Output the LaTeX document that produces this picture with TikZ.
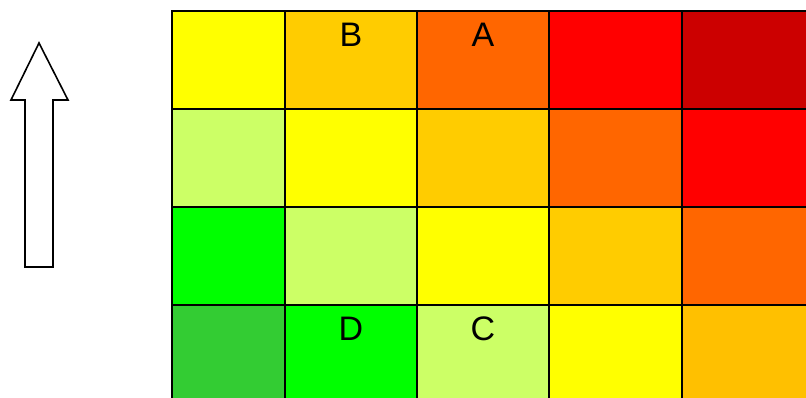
\documentclass[tikz,border=0pt]{standalone}
\usepackage{fontspec}
\setmainfont{Liberation Sans}
\definecolor{cY}{HTML}{FFFF00}
\definecolor{cO}{HTML}{FFCC00}
\definecolor{cR}{HTML}{FF6600}
\definecolor{cRR}{HTML}{FF0000}
\definecolor{cDR}{HTML}{CC0000}
\definecolor{cLG}{HTML}{CCFF66}
\definecolor{cG}{HTML}{00FF00}
\definecolor{cDG}{HTML}{33CC33}
\definecolor{cOO}{HTML}{FFC000}
\tikzset{
  cellbox/.style={draw=black, line width=2pt},
  lbl/.style={anchor=base, inner sep=0pt, font=\fontsize{34}{34}\selectfont},
  bigarrow/.style={draw=black, fill=white, line width=1.6pt, line join=miter}
}
\begin{document}
\begin{tikzpicture}[x=1pt,y=-1pt]
\useasboundingbox (0,0) rectangle (806,397);
\clip (0,0) rectangle (806,397);
% grid
\def\xs{{172,285,417,549,682,830}}
\def\ys{{11,109,207,305,420}}
\foreach \r/\row in {0/{cY,cO,cR,cRR,cDR},1/{cLG,cY,cO,cR,cRR},2/{cG,cLG,cY,cO,cR},3/{cDG,cG,cLG,cY,cOO}}{
  \foreach \c/\col in \row {}
}
\foreach \r/\a/\b/\cc/\d/\e in {0/cY/cO/cR/cRR/cDR,1/cLG/cY/cO/cR/cRR,2/cG/cLG/cY/cO/cR,3/cDG/cG/cLG/cY/cOO}{
  \pgfmathsetmacro{\yt}{\ys[\r]}
  \pgfmathsetmacro{\yb}{\ys[\r+1]}
  \foreach \c/\col in {0/\a,1/\b,2/\cc,3/\d,4/\e}{
    \pgfmathsetmacro{\xl}{\xs[\c]}
    \pgfmathsetmacro{\xr}{\xs[\c+1]}
    \draw[cellbox, fill=\col] (\xl,\yt) rectangle (\xr,\yb);
  }
}
% labels
\node[lbl] (B) at (351,46) {B};
\node[lbl] (A) at (483,46) {A};
\node[lbl] (D) at (351,340) {D};
\node[lbl] (C) at (483,340) {C};
% arrow
\draw[bigarrow] (25,267) -- (25,100) -- (11,100) -- (39,43) -- (68,100) -- (53,100) -- (53,267) -- cycle;
\end{tikzpicture}
\end{document}
